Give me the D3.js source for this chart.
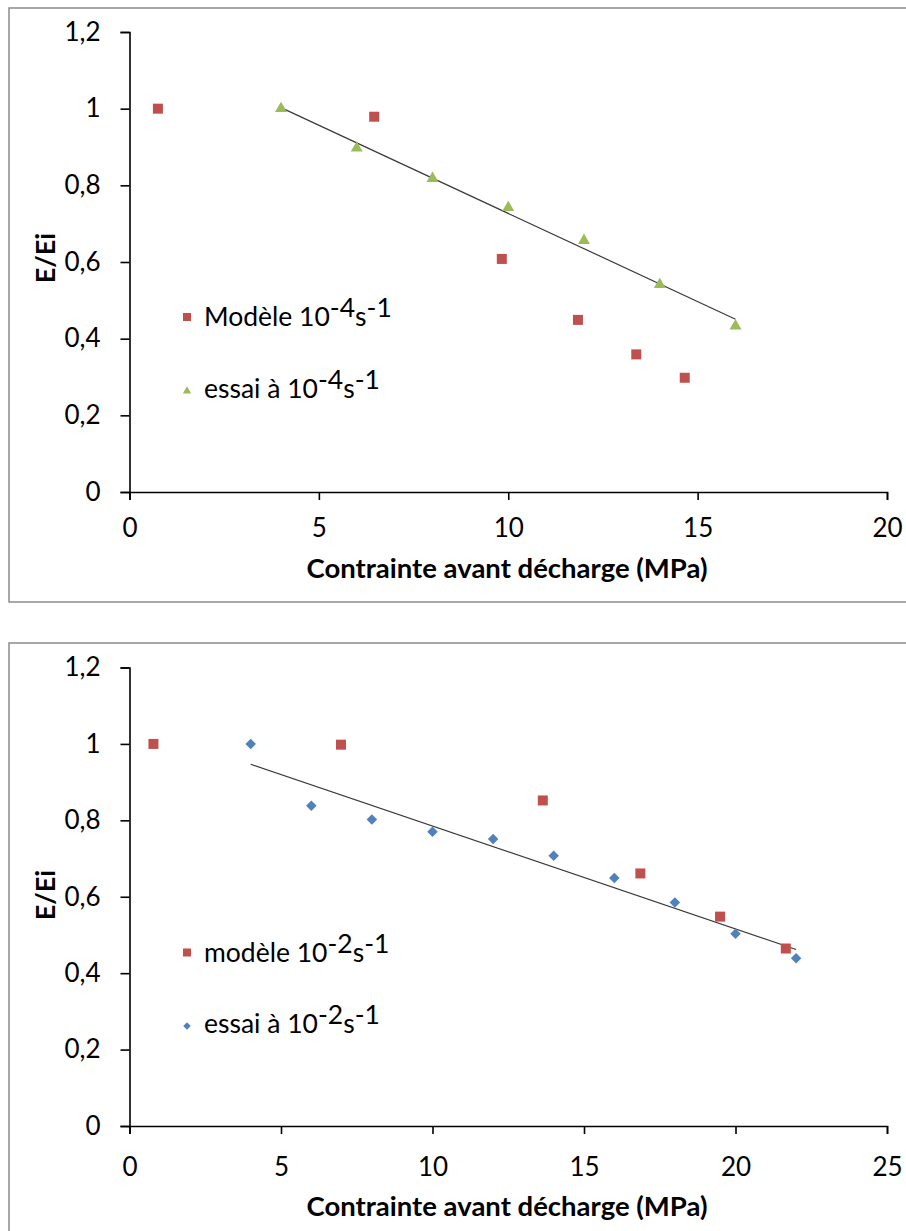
<!DOCTYPE html>
<html>
<head>
<meta charset="utf-8">
<script src="https://cdn.jsdelivr.net/npm/d3@7"></script>
<style>
  html, body { margin: 0; padding: 0; background: #fff; }
  svg { display: block; }
  text { font-family: Lato, "Open Sans", sans-serif; fill: #000; }
</style>
</head>
<body>
<svg id="chart" width="906" height="1231"></svg>
<script>
// ---- Data ----
const yTickValues = [0, 0.2, 0.4, 0.6, 0.8, 1, 1.2];
const yTickLabels = ["0", "0,2", "0,4", "0,6", "0,8", "1", "1,2"];
const xTicksTop = [0, 5, 10, 15, 20];
const xTicksBottom = [0, 5, 10, 15, 20, 25];

const xTitle = "Contrainte avant décharge (MPa)";
const yTitle = "E/Ei";

// Top chart (10^-4 s^-1)
const modele4X = [0.75, 6.46, 9.83, 11.84, 13.38, 14.66];
const modele4Y = [1.0, 0.979, 0.608, 0.449, 0.359, 0.298];
const essai4X = [4, 6, 8, 10, 12, 14, 16];
const essai4Y = [1.0, 0.897, 0.818, 0.742, 0.656, 0.541, 0.433];

// Bottom chart (10^-2 s^-1)
const modele2X = [0.79, 6.98, 13.64, 16.86, 19.49, 21.66];
const modele2Y = [1.0, 0.998, 0.852, 0.661, 0.548, 0.4645];
const essai2X = [4, 6, 8, 10, 12, 14, 16, 18, 20, 22];
const essai2Y = [1.0, 0.838, 0.802, 0.770, 0.751, 0.707, 0.649, 0.585, 0.503, 0.439];

const RED = "#C0504D", GREEN = "#9BBB59", BLUE = "#4F81BD";

const svg = d3.select("#chart");

function linReg(xs, ys) {
  const n = xs.length;
  const mx = d3.mean(xs), my = d3.mean(ys);
  let sxy = 0, sxx = 0;
  for (let i = 0; i < n; i++) { sxy += (xs[i]-mx)*(ys[i]-my); sxx += (xs[i]-mx)**2; }
  const b = sxy / sxx;
  return x => my + b * (x - mx);
}

// square-shaped diamond (rotated square)
const diamondSquare = {
  draw(context, size) {
    const r = Math.sqrt(size / 2);
    context.moveTo(0, -r);
    context.lineTo(r, 0);
    context.lineTo(0, r);
    context.lineTo(-r, 0);
    context.closePath();
  }
};

function legendText(g, x, y, parts) {
  const t = g.append("text").attr("x", x).attr("y", y).attr("font-size", 26.5);
  parts.forEach(p => {
    t.append("tspan").attr("dy", p.dy || 0).text(p.t);
  });
}

function drawChart(cfg) {
  const g = svg.append("g");
  // border
  g.append("rect")
    .attr("x", cfg.box[0]).attr("y", cfg.box[1])
    .attr("width", cfg.box[2]).attr("height", cfg.box[3])
    .attr("fill", "none").attr("stroke", "#8c8c8c").attr("stroke-width", 1.5);

  const x = d3.scaleLinear().domain([0, cfg.xMax]).range([129.5, 887]);
  const y = d3.scaleLinear().domain([0, 1.2]).range([cfg.y0, cfg.y12]);

  // y axis
  const yAxis = d3.axisLeft(y).tickValues(yTickValues)
    .tickFormat((d, i) => yTickLabels[i]).tickSize(9).tickPadding(20);
  const ya = g.append("g").attr("transform", `translate(${x(0)},0)`).call(yAxis);
  ya.select(".domain").attr("stroke", "#000").attr("stroke-width", 1.6);
  ya.selectAll(".tick line").attr("stroke", "#000").attr("stroke-width", 1.6);
  ya.selectAll(".tick text").attr("font-size", 26).attr("font-family", "Lato").attr("fill", "#000");

  // x axis
  const xAxis = d3.axisBottom(x).tickValues(cfg.xTicks)
    .tickFormat(d3.format("d")).tickSize(8).tickPadding(cfg.xPad);
  const xa = g.append("g").attr("transform", `translate(0,${y(0)})`).call(xAxis);
  xa.select(".domain").attr("stroke", "#000").attr("stroke-width", 1.6);
  xa.selectAll(".tick line").attr("stroke", "#000").attr("stroke-width", 1.6);
  xa.selectAll(".tick text").attr("font-size", 26).attr("font-family", "Lato").attr("fill", "#000");

  // titles
  g.append("text").attr("x", 507).attr("y", cfg.xTitleY)
    .attr("text-anchor", "middle").attr("font-size", 27.5).attr("font-weight", "bold")
    .text(xTitle);
  g.append("text")
    .attr("transform", `translate(55,${cfg.yTitleY}) rotate(-90)`)
    .attr("text-anchor", "middle").attr("font-size", 27).attr("font-weight", "bold")
    .text(yTitle);

  // trendline
  const f = linReg(cfg.essaiX, cfg.essaiY);
  const x1 = d3.min(cfg.essaiX), x2 = d3.max(cfg.essaiX);
  g.append("line")
    .attr("x1", x(x1)).attr("y1", y(f(x1)))
    .attr("x2", x(x2)).attr("y2", y(f(x2)))
    .attr("stroke", "#3a3a3a").attr("stroke-width", 1.2);

  // modele squares
  g.selectAll(".sq").data(cfg.modeleX.map((d, i) => [d, cfg.modeleY[i]]))
    .join("rect")
    .attr("x", d => x(d[0]) - 5).attr("y", d => y(d[1]) - 5)
    .attr("width", 10).attr("height", 10).attr("fill", RED);

  // essai markers
  const sym = d3.symbol().type(cfg.essaiSymbol).size(cfg.essaiSize);
  g.selectAll(".es").data(cfg.essaiX.map((d, i) => [d, cfg.essaiY[i]]))
    .join("path")
    .attr("d", sym)
    .attr("transform", d => `translate(${x(d[0])},${y(d[1])})`)
    .attr("fill", cfg.essaiColor);

  // legend
  const L = cfg.legend;
  g.append("rect").attr("x", 187 - 4).attr("y", L.y1 - 4)
    .attr("width", 8).attr("height", 8).attr("fill", RED);
  legendText(g, 204, L.y1 + 9, [
    {t: L.label1}, {t: L.exp, dy: -9}, {t: "s", dy: 9}, {t: "-1", dy: -9}
  ]);
  g.append("path").attr("d", d3.symbol().type(cfg.essaiSymbol).size(cfg.legendSize))
    .attr("transform", `translate(187,${L.y2})`).attr("fill", cfg.essaiColor);
  legendText(g, 204, L.y2 + 7, [
    {t: L.label2}, {t: L.exp, dy: -9}, {t: "s", dy: 9}, {t: "-1", dy: -9}
  ]);
}

drawChart({
  box: [9, 8, 905, 594],
  xMax: 20, xTicks: xTicksTop, xPad: 19,
  y0: 492, y12: 32,
  xTitleY: 578, yTitleY: 258,
  modeleX: modele4X, modeleY: modele4Y,
  essaiX: essai4X, essaiY: essai4Y,
  essaiSymbol: d3.symbolTriangle, essaiSize: 62, essaiColor: GREEN, legendSize: 30,
  legend: { y1: 317, y2: 391, label1: "Modèle 10", label2: "essai à 10", exp: "-4" }
});

drawChart({
  box: [9, 643, 905, 600],
  xMax: 25, xTicks: xTicksBottom, xPad: 24,
  y0: 1126, y12: 667.5,
  xTitleY: 1216, yTitleY: 895,
  modeleX: modele2X, modeleY: modele2Y,
  essaiX: essai2X, essaiY: essai2Y,
  essaiSymbol: diamondSquare, essaiSize: 55, essaiColor: BLUE, legendSize: 28,
  legend: { y1: 952.5, y2: 1026, label1: "modèle 10", label2: "essai à 10", exp: "-2" }
});
</script>
</body>
</html>
